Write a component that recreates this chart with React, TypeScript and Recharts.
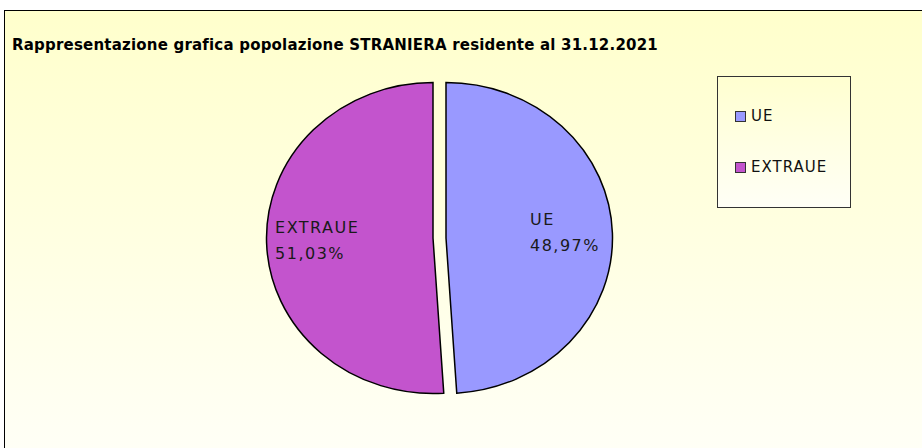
import { PieChart, Pie, Cell, Legend } from 'recharts';

const categories = ['UE', 'EXTRAUE'];
const shares = [48.97, 51.03];
const colors = ['#9999FF', '#C354CD'];
const title = 'Rappresentazione grafica popolazione STRANIERA residente al 31.12.2021';

const data = categories.map((name, i) => ({ name, value: shares[i] }));

const FONT = '"DejaVu Sans", sans-serif';
const RAD = Math.PI / 180;

// chart-space geometry (PieChart adds a 5px margin)
const CX = 429.5;
const CY = 222;
const R = 166.5;
const SQUASH = 0.934; // the original pie is slightly flattened

// custom label: name over percentage, inside the slice
const renderLabel = (only: number) => (props: any) => {
  const { cx, cy, midAngle, outerRadius, index, name, value } = props;
  if (index !== only) return null;
  const r = outerRadius * 0.727;
  const x = cx + r * Math.cos(-midAngle * RAD) - 37;
  const y = cy + r * Math.sin(-midAngle * RAD) * SQUASH;
  const pct = value.toFixed(2).replace('.', ',') + '%';
  return (
    <text x={x} y={y} fill="#1a1a1a" fontSize={16} fontFamily={FONT} letterSpacing={1.5} textAnchor="start">
      <tspan x={x} dy={-9}>{name}</tspan>
      <tspan x={x} dy={26}>{pct}</tspan>
    </text>
  );
};

const LegendBox = () => (
  <div
    style={{
      width: 132,
      height: 130,
      border: '1px solid #333',
      background: 'linear-gradient(#FFFFD0, #FFFFF6)',
      fontFamily: FONT,
      fontSize: 15,
      letterSpacing: 1,
      color: '#111',
      boxSizing: 'content-box',
    }}
  >
    {categories.map((c, i) => (
      <div key={c} style={{ position: 'absolute', left: 18, top: 31 + i * 51, display: 'flex', alignItems: 'center' }}>
        <span style={{ width: 9, height: 9, background: colors[i], border: '1px solid #333', marginRight: 5 }} />
        <span>{c}</span>
      </div>
    ))}
  </div>
);

export default function App() {
  const offset = 6.5;
  return (
    <div style={{ position: 'absolute', left: 0, top: 0, width: 922, height: 448, background: '#fff', overflow: 'hidden' }}>
      <style>{`.recharts-pie-sector path { transform-origin: ${CX + 5}px ${CY + 5}px; transform: scaleY(${SQUASH}); }`}</style>
      <div
        style={{
          position: 'absolute',
          left: 4,
          top: 10,
          width: 918,
          height: 438,
          borderLeft: '1px solid #000',
          borderTop: '1px solid #000',
          background: 'linear-gradient(#FFFFCC, #FFFFF6)',
        }}
      >
        <div
          style={{
            position: 'absolute',
            left: 7,
            top: 25,
            fontFamily: FONT,
            fontWeight: 'bold',
            fontSize: 15,
            letterSpacing: 0.2,
            color: '#000',
            whiteSpace: 'nowrap',
          }}
        >
          {title}
        </div>
        <PieChart width={917} height={437} style={{ position: 'absolute', left: 0, top: 0 }}>
          {[0, 1].map((k) => (
            <Pie
              key={k}
              data={data}
              dataKey="value"
              nameKey="name"
              cx={CX + (k === 0 ? offset : -offset)}
              cy={CY}
              outerRadius={R}
              startAngle={90}
              endAngle={-270}
              isAnimationActive={false}
              labelLine={false}
              label={renderLabel(k)}
              legendType={k === 0 ? 'square' : 'none'}
            >
              {data.map((d, i) => (
                <Cell
                  key={d.name}
                  fill={i === k ? colors[i] : 'none'}
                  stroke={i === k ? '#000' : 'none'}
                  strokeWidth={1.5}
                />
              ))}
            </Pie>
          ))}
          <Legend
            content={() => <LegendBox />}
            wrapperStyle={{ position: 'absolute', left: 712, top: 65, width: 134, height: 132 }}
          />
        </PieChart>
      </div>
    </div>
  );
}
